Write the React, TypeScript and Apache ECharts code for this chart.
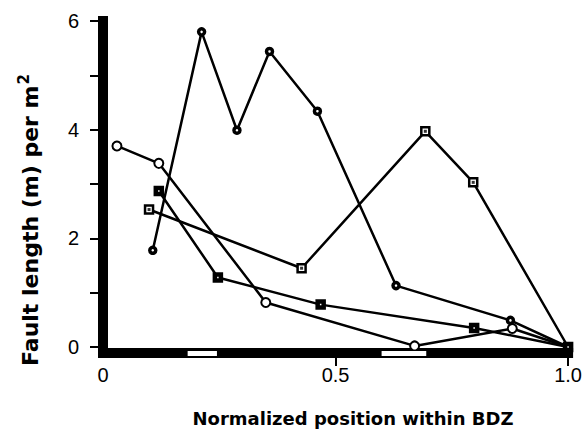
import React, { useEffect, useRef } from "react";
import * as echarts from "echarts";

// Open circles
const circleX = [0.03, 0.12, 0.35, 0.67, 0.88, 1.0];
const circleY = [3.7, 3.38, 0.82, 0.02, 0.34, 0.0];
// Filled squares
const filledSqX = [0.12, 0.247, 0.468, 0.798, 1.0];
const filledSqY = [2.87, 1.28, 0.78, 0.35, 0.0];
// Open squares
const openSqX = [0.099, 0.427, 0.693, 0.796, 1.0];
const openSqY = [2.53, 1.45, 3.97, 3.03, 0.0];
// Dotted circles
const dotX = [0.107, 0.212, 0.288, 0.358, 0.461, 0.63, 0.876, 1.0];
const dotY = [1.78, 5.8, 3.99, 5.44, 4.34, 1.13, 0.49, 0.0];
// White gaps drawn in the x-axis bar
const gapStart = [0.182, 0.599];
const gapEnd = [0.245, 0.695];

const xTickValues = [0, 0.5, 1];
const yTickValues = [0, 1, 2, 3, 4, 5, 6];

const toPairs = (xs: number[], ys: number[], hideLast: boolean) =>
  xs.map((x, i) => {
    if (hideLast && i === xs.length - 1) return { value: [x, ys[i]], symbol: "none" };
    return { value: [x, ys[i]] };
  });

const lineStyle = { color: "#000", width: 2.5 };

export default function App() {
  const ref = useRef<HTMLDivElement>(null);
  useEffect(() => {
    document.body.style.margin = "0";
    const chart = echarts.init(ref.current!, null, { renderer: "svg" });
    chart.setOption({
      animation: false,
      backgroundColor: "#fff",
      grid: { left: 103, right: 16, top: 21, bottom: 85 },
      xAxis: {
        type: "value",
        min: 0,
        max: 1,
        interval: 0.5,
        offset: 6,
        axisLine: { show: true, onZero: false, lineStyle: { color: "#000", width: 10, cap: "square" } },
        axisTick: { show: true, length: 13, customValues: [0.5, 1], lineStyle: { color: "#000", width: 2 } },
        axisLabel: {
          margin: 12,
          color: "#000",
          fontSize: 20,
          fontFamily: "Liberation Sans",
          customValues: xTickValues,
          formatter: (v: number) => (v === 1 ? "1.0" : String(v)),
        },
        splitLine: { show: false },
      },
      yAxis: {
        type: "value",
        min: 0,
        max: 6,
        interval: 1,
        axisLine: { show: true, onZero: false, lineStyle: { color: "#000", width: 10, cap: "square" } },
        axisTick: { show: true, length: 13, lineStyle: { color: "#000", width: 2 } },
        axisLabel: {
          margin: 24,
          color: "#000",
          fontSize: 20,
          fontFamily: "Liberation Sans",
          formatter: (v: number) => (yTickValues.indexOf(v) >= 0 && v % 2 === 0 ? String(v) : ""),
        },
        splitLine: { show: false },
      },
      graphic: [
        {
          type: "text",
          x: 353,
          y: 418,
          style: {
            text: "Normalized position within BDZ",
            fontFamily: "DejaVu Sans",
            fontWeight: "bold",
            fontSize: 18,
            fill: "#000",
            align: "center",
            verticalAlign: "middle",
          },
        },
        {
          type: "text",
          x: 30,
          y: 220,
          rotation: Math.PI / 2,
          style: {
            text: "Fault length (m) per m{sup|2}",
            fontFamily: "DejaVu Sans",
            fontWeight: "bold",
            fontSize: 22,
            fill: "#000",
            align: "center",
            verticalAlign: "middle",
            rich: {
              sup: {
                fontFamily: "DejaVu Sans",
                fontWeight: "bold",
                fontSize: 15,
                fill: "#000",
                verticalAlign: "top",
                padding: [0, 0, 12, 1],
              },
            },
          },
        },
      ],
      series: [
        {
          type: "custom",
          silent: true,
          clip: false,
          z: 5,
          data: gapStart.map((s, i) => [s, gapEnd[i]]),
          renderItem: (_p: any, api: any) => {
            const a = api.coord([api.value(0), 0]);
            const b = api.coord([api.value(1), 0]);
            return {
              type: "rect",
              shape: { x: a[0], y: a[1] + 4, width: b[0] - a[0], height: 5 },
              style: { fill: "#fff" },
            };
          },
        },
        {
          name: "open circles",
          type: "line",
          data: toPairs(circleX, circleY, true),
          symbol: "circle",
          symbolSize: 9,
          lineStyle,
          itemStyle: { color: "#fff", borderColor: "#000", borderWidth: 2 },
          z: 3,
        },
        {
          name: "open squares",
          type: "line",
          data: toPairs(openSqX, openSqY, true),
          symbol: "rect",
          symbolSize: 8,
          lineStyle,
          itemStyle: { color: "#fff", borderColor: "#000", borderWidth: 2.5 },
          z: 3,
        },
        {
          name: "open squares dot",
          type: "scatter",
          data: toPairs(openSqX, openSqY, true),
          symbol: "rect",
          symbolSize: 3,
          itemStyle: { color: "#000" },
          z: 4,
        },
        {
          name: "dotted circles",
          type: "line",
          data: toPairs(dotX, dotY, true),
          symbol: "circle",
          symbolSize: 6,
          lineStyle,
          itemStyle: { color: "#fff", borderColor: "#000", borderWidth: 3.5 },
          z: 3,
        },
        {
          name: "filled squares",
          type: "line",
          data: toPairs(filledSqX, filledSqY, false),
          symbol: "rect",
          symbolSize: 6,
          lineStyle,
          itemStyle: { color: "#fff", borderColor: "#000", borderWidth: 4.5 },
          z: 3,
        },
      ],
    });
    return () => chart.dispose();
  }, []);
  return <div ref={ref} style={{ width: 585, height: 432 }} />;
}
